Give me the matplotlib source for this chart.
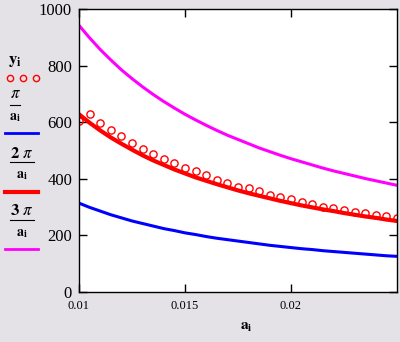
import matplotlib
matplotlib.use("Agg")
import matplotlib.pyplot as plt
from matplotlib.lines import Line2D

# a_i grid and the values
a_i = [0.0100, 0.0105, 0.0110, 0.0115, 0.0120, 0.0125, 0.0130, 0.0135,
       0.0140, 0.0145, 0.0150, 0.0155, 0.0160, 0.0165, 0.0170, 0.0175,
       0.0180, 0.0185, 0.0190, 0.0195, 0.0200, 0.0205, 0.0210, 0.0215,
       0.0220, 0.0225, 0.0230, 0.0235, 0.0240, 0.0245, 0.0250]
y_i = [605, 629, 598, 573, 551, 528, 504, 487, 469, 455, 438, 428, 413, 396,
       386, 372, 366, 358, 344, 337, 328, 318, 310, 301, 298, 290, 284, 280,
       272, 269, 260]
pi_a = [314, 299, 286, 273, 262, 251, 242, 233, 224, 217, 209, 203, 196, 190,
        185, 180, 175, 170, 165, 161, 157, 153, 150, 146, 143, 140, 137, 134,
        131, 128, 126]
two_pi_a = [628, 598, 571, 546, 524, 503, 483, 465, 449, 433, 419, 405, 393,
            381, 370, 359, 349, 340, 331, 322, 314, 306, 299, 292, 286, 279,
            273, 267, 262, 256, 251]
three_pi_a = [942, 898, 857, 820, 785, 754, 725, 698, 673, 650, 628, 608, 589,
              571, 554, 539, 524, 509, 496, 483, 471, 460, 449, 438, 428, 419,
              410, 401, 393, 385, 377]

x_ticks = [0.01, 0.015, 0.02]
x_labels = ["0.01", "0.015", "0.02"]
y_ticks = [0, 200, 400, 600, 800, 1000]

plt.rcParams['font.family'] = ['Liberation Serif', 'DejaVu Serif']
plt.rcParams['mathtext.fontset'] = 'stix'

W, H = 400, 342
fig = plt.figure(figsize=(W / 100, H / 100), dpi=100, facecolor='#e4e2e6')
ax = fig.add_axes([79 / W, 1 - 292 / H, (397 - 79) / W, (292 - 9) / H])
ax.set_facecolor('white')

ax.plot(a_i, pi_a, color='#0000ff', lw=2.2)
ax.plot(a_i, two_pi_a, color='#ff0000', lw=3.0)
ax.plot(a_i, three_pi_a, color='#ff00ff', lw=2.2)
ax.plot(a_i, y_i, ls='none', marker='o', mfc='none', mec='#ff0000',
        ms=5.2, mew=1.0, clip_on=True)

ax.set_xlim(0.01, 0.025)
ax.set_ylim(0, 1000)
ax.set_xticks(x_ticks)
ax.set_xticklabels(x_labels, fontsize=9)
ax.set_yticks(y_ticks)
ax.set_yticklabels([str(v) for v in y_ticks], fontsize=12)
ax.tick_params(direction='in', length=6, width=1, top=True, right=True,
               color='black')
ax.tick_params(axis='x', pad=5.5)
ax.tick_params(axis='y', pad=5)
for s in ax.spines.values():
    s.set_color('black')
    s.set_linewidth(1)

fig.text(246 / W, 1 - 327 / H, r'$\mathbf{a}_{\mathbf{i}}$', fontsize=11,
         ha='center', va='center')


# legend on the left
def px(x, y):
    return x / W, 1 - y / H


def hline(x0, x1, y, color, lw):
    (fx0, fy), (fx1, _) = px(x0, y), px(x1, y)
    fig.add_artist(Line2D([fx0, fx1], [fy, fy], color=color, lw=lw,
                          transform=fig.transFigure))


fig.text(*px(15, 61), r'$\mathbf{y}_{\mathbf{i}}$', fontsize=12,
         ha='center', va='center')
for cx in (10, 23, 36):
    fx, fy = px(cx, 78)
    fig.add_artist(Line2D([fx], [fy], marker='o', mfc='none', mec='#ff0000',
                          ms=4.5, mew=1.0, transform=fig.transFigure))

fig.text(*px(15, 94), r'$\pi$', fontsize=12, ha='center', va='center')
hline(10, 20, 105, 'black', 0.8)
fig.text(*px(15, 118), r'$\mathbf{a}_{\mathbf{i}}$', fontsize=10,
         ha='center', va='center')
hline(5, 38, 133, '#0000ff', 2)

fig.text(*px(22, 154), r'$\mathbf{2}\ \pi$', fontsize=12, ha='center',
         va='center')
hline(10, 34, 162, 'black', 0.8)
fig.text(*px(22, 175), r'$\mathbf{a}_{\mathbf{i}}$', fontsize=10,
         ha='center', va='center')
hline(5, 38, 192, '#ff0000', 3)

fig.text(*px(22, 211), r'$\mathbf{3}\ \pi$', fontsize=12, ha='center',
         va='center')
hline(10, 34, 220, 'black', 0.8)
fig.text(*px(22, 233), r'$\mathbf{a}_{\mathbf{i}}$', fontsize=10,
         ha='center', va='center')
hline(5, 38, 249, '#ff00ff', 2)

fig.savefig('out.png', dpi=100, facecolor=fig.get_facecolor())
